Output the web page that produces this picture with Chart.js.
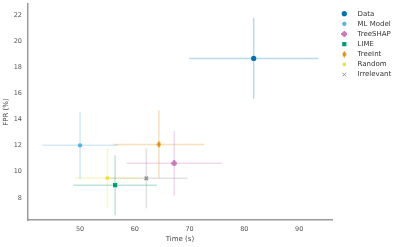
<!DOCTYPE html>
<html>
<head>
<meta charset="utf-8">
<script src="https://cdn.jsdelivr.net/npm/chart.js@4"></script>
<style>
  html, body { margin: 0; padding: 0; background: #fff; }
  #wrap { width: 399px; height: 247px; position: relative; }
</style>
</head>
<body>
<div id="wrap"><canvas id="chart"></canvas></div>
<script>
// series
var seriesNames = ['Data', 'ML Model', 'TreeSHAP', 'LIME', 'TreeInt', 'Random', 'Irrelevant'];
var timeMean = [81.7, 50.0, 67.2, 56.4, 64.4, 55.0, 62.1];
var timeErr  = [11.8, 6.9, 8.7, 7.6, 8.3, 5.8, 7.5];
var fprMean  = [18.68, 12.02, 10.64, 8.97, 12.09, 9.51, 9.49];
var fprErr   = [3.1, 2.6, 2.5, 2.3, 2.6, 2.3, 2.3];

var xTicks = [50, 60, 70, 80, 90];
var yTicks = [8, 10, 12, 14, 16, 18, 20, 22];

var colours = ['#0173b2', '#56b4e9', '#cc78bc', '#029e73', '#de8f05', '#ece133', '#949494'];

var hexToRgba = function (hex, a) {
    var r = parseInt(hex.substr(1, 2), 16);
    var g = parseInt(hex.substr(3, 2), 16);
    var b = parseInt(hex.substr(5, 2), 16);
    return 'rgba(' + r + ',' + g + ',' + b + ',' + a + ')';
};

// petits marqueurs dessinés à la main (plus plein, losange fin)
var makePlus = function (col) {
    var c = document.createElement('canvas');
    c.width = 6; c.height = 6;
    var g = c.getContext('2d');
    g.fillStyle = col;
    g.fillRect(2, 0, 2, 6);
    g.fillRect(0, 2, 6, 2);
    g.fillRect(1, 1, 4, 4);
    return c;
};
var makeThinDiamond = function (col) {
    var c = document.createElement('canvas');
    c.width = 5; c.height = 7;
    var g = c.getContext('2d');
    g.fillStyle = col;
    g.beginPath();
    g.moveTo(2.5, 0); g.lineTo(4.6, 3.5); g.lineTo(2.5, 7); g.lineTo(0.4, 3.5);
    g.closePath();
    g.fill();
    return c;
};

var markerStyles = ['circle', 'circle', makePlus(colours[2]), 'rect', makeThinDiamond(colours[4]), 'rect', 'crossRot'];
var markerSizes = [2.6, 2.2, 3, 3, 3.5, 2.3, 2.4];

var datasets = [];
seriesNames.forEach(function (name, i) {
    // barres d'erreur horizontales et verticales
    datasets.push({
        label: name + ' xerr',
        data: [{x: timeMean[i] - timeErr[i], y: fprMean[i]}, {x: timeMean[i] + timeErr[i], y: fprMean[i]}],
        showLine: true,
        borderColor: hexToRgba(colours[i], 0.27),
        borderWidth: 1.5,
        pointRadius: 0,
        pointHoverRadius: 0,
        order: 2
    });
    datasets.push({
        label: name + ' yerr',
        data: [{x: timeMean[i], y: fprMean[i] - fprErr[i]}, {x: timeMean[i], y: fprMean[i] + fprErr[i]}],
        showLine: true,
        borderColor: hexToRgba(colours[i], 0.27),
        borderWidth: 1.5,
        pointRadius: 0,
        pointHoverRadius: 0,
        order: 2
    });
});
seriesNames.forEach(function (name, i) {
    datasets.push({
        label: name,
        data: [{x: timeMean[i], y: fprMean[i]}],
        backgroundColor: colours[i],
        borderColor: colours[i],
        borderWidth: markerStyles[i] === 'crossRot' ? 1.6 : 0,
        pointStyle: markerStyles[i],
        pointRadius: markerSizes[i],
        pointHoverRadius: markerSizes[i],
        order: 1
    });
});

var legendPlugin = {
    id: 'sideLegend',
    afterDraw: function (chart) {
        var ctx = chart.ctx;
        ctx.save();
        ctx.font = '7px "DejaVu Sans"';
        ctx.textBaseline = 'middle';
        seriesNames.forEach(function (name, i) {
            var y = 13.7 + i * 10.15;
            var isX = markerStyles[i] === 'crossRot';
            ctx.fillStyle = colours[i];
            ctx.strokeStyle = colours[i];
            ctx.lineWidth = 1;
            Chart.helpers.drawPoint(ctx, {
                pointStyle: markerStyles[i],
                radius: isX ? 2.6 : markerSizes[i],
                borderWidth: isX ? 1 : 0
            }, 344.3, y);
            ctx.fillStyle = '#333';
            ctx.fillText(name, 357.5, y);
        });
        ctx.restore();
    }
};

var ctx = document.getElementById('chart');
var chart = new Chart(ctx, {
    type: 'scatter',
    data: { datasets: datasets },
    plugins: [legendPlugin],
    options: {
        responsive: true,
        maintainAspectRatio: false,
        animation: false,
        events: [],
        layout: { autoPadding: false, padding: { top: 4, right: 67, left: 0, bottom: 0 } },
        plugins: { legend: { display: false }, tooltip: { enabled: false } },
        scales: {
            x: {
                type: 'linear',
                min: 40.5,
                max: 96,
                afterFit: function (scale) {
                    scale.height = 27;
                    scale.paddingLeft = 0;
                    scale.paddingRight = 0;
                },
                afterBuildTicks: function (scale) { scale.ticks = xTicks.map(function (v) { return {value: v}; }); },
                grid: { display: false, drawTicks: false },
                border: { color: '#9a9a9a', width: 1.5 },
                ticks: { color: '#555', font: { family: 'DejaVu Sans', size: 6.5 }, padding: 5 },
                title: { display: true, text: 'Time (s)', color: '#444', font: { family: 'DejaVu Sans', size: 7 }, padding: { top: 0, bottom: 4 } }
            },
            y: {
                type: 'linear',
                min: 6.3,
                max: 22.85,
                afterFit: function (scale) {
                    scale.width = 28;
                    scale.paddingTop = 0;
                    scale.paddingBottom = 0;
                },
                afterBuildTicks: function (scale) { scale.ticks = yTicks.map(function (v) { return {value: v}; }); },
                grid: { display: false, drawTicks: false },
                border: { color: '#9a9a9a', width: 1.5 },
                ticks: { color: '#555', font: { family: 'DejaVu Sans', size: 6.5 }, padding: 6 },
                title: { display: true, text: 'FPR (%)', color: '#444', font: { family: 'DejaVu Sans', size: 7 }, padding: { top: 2, bottom: 0 } }
            }
        }
    }
});
</script>
</body>
</html>
